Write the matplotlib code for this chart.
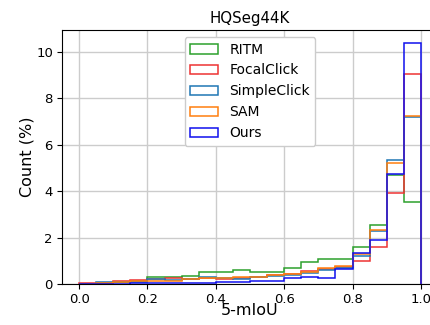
import numpy as np
import matplotlib
matplotlib.use('Agg')
from matplotlib import pyplot as plt

# 20 bins of width 0.05 over [0, 1]; values are density (%) per bin
edges = np.linspace(0, 1, 21)
centers = (edges[:-1] + edges[1:]) / 2

ritm = [0.02, 0.05, 0.10, 0.15, 0.29, 0.32, 0.34, 0.53, 0.53, 0.60,
        0.50, 0.53, 0.68, 0.95, 1.08, 1.08, 1.58, 2.54, 4.70, 3.55]
focalclick = [0.04, 0.05, 0.12, 0.16, 0.20, 0.24, 0.20, 0.25, 0.20, 0.28,
              0.30, 0.40, 0.45, 0.57, 0.64, 0.75, 0.99, 1.61, 3.91, 9.06]
simpleclick = [0.02, 0.10, 0.08, 0.10, 0.20, 0.16, 0.22, 0.30, 0.28, 0.22,
               0.30, 0.35, 0.40, 0.46, 0.60, 0.70, 1.20, 2.30, 5.33, 7.20]
sam = [0.01, 0.03, 0.08, 0.15, 0.15, 0.15, 0.20, 0.25, 0.25, 0.30,
       0.30, 0.38, 0.45, 0.53, 0.68, 0.78, 1.29, 2.33, 5.20, 7.23]
ours = [0.00, 0.01, 0.02, 0.03, 0.03, 0.04, 0.05, 0.06, 0.08, 0.10,
        0.12, 0.15, 0.25, 0.29, 0.27, 0.63, 1.35, 1.90, 4.73, 10.40]

names = ['RITM', 'FocalClick', 'SimpleClick', 'SAM', 'Ours']
series = [ritm, focalclick, simpleclick, sam, ours]
colors = ['#2ca02c', '#ee3333', '#1f77b4', '#ff7f0e', '#1010ee']

fig = plt.figure(figsize=(4.31, 3.25), dpi=100)
# the original was cropped on the right, so the axes run past the edge
ax = fig.add_axes([62 / 431, 41 / 325, 376 / 431, 254 / 325])

for name, vals, c in zip(names, series, colors):
    ax.hist(centers, bins=edges, weights=vals, histtype='step',
            color=c, linewidth=1.1, label=name)

ax.set_xlim(-0.05, 1.05)
ax.set_ylim(0, 10.95)
ax.set_xticks([0.0, 0.2, 0.4, 0.6, 0.8, 1.0])
ax.set_yticks([0, 2, 4, 6, 8, 10])
ax.grid(True, color='#cccccc', linewidth=1)
ax.set_axisbelow(True)
ax.tick_params(labelsize=9.5, pad=3)
ax.set_title('HQSeg44K', fontsize=10.8, pad=5)
ax.set_xlabel('5-mIoU', fontsize=11.5, labelpad=-2)
ax.set_ylabel('Count (%)', fontsize=11.5, labelpad=1)
ax.legend(loc='upper center', fontsize=10, framealpha=1)

fig.savefig('out.png', dpi=100)
